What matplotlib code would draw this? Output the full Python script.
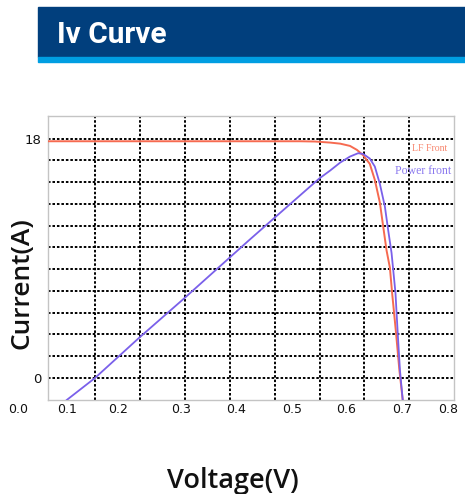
import numpy as np
import matplotlib
matplotlib.use("Agg")
import matplotlib.pyplot as plt
from matplotlib.patches import Rectangle

# ---------------- data ----------------
title = "Iv Curve"
x_label = "Voltage(V)"
y_label = "Current(A)"
x_tick_labels = ["0.0", "0.1", "0.2", "0.3", "0.4", "0.5", "0.6", "0.7", "0.8"]
y_tick_values = [0, 18]
series_names = ["LF Front", "Power front"]

lf_voltage = [0.066, 0.300, 0.518, 0.545, 0.572, 0.590, 0.6075, 0.620, 0.631, 0.643,
              0.652, 0.661, 0.667, 0.673, 0.679, 0.683, 0.690, 0.696, 0.702]
lf_current = [17.8, 17.8, 17.8, 17.78, 17.7, 17.62, 17.45, 17.15, 16.75, 16.1,
              14.9, 13.2, 11.4, 9.6, 8.3, 6.4, 3.4, 0.6, -1.65]

pw_voltage = [0.100, 0.1505, 0.229, 0.278, 0.308, 0.425, 0.471, 0.5525, 0.572, 0.590,
              0.6075, 0.622, 0.631, 0.643, 0.652, 0.661, 0.670, 0.676, 0.682, 0.689,
              0.693, 0.697, 0.702]
pw_current = [-1.65, 0.0, 3.0, 4.8, 5.9, 10.3, 12.0, 15.0, 15.6, 16.2,
              16.65, 16.9, 16.85, 16.5, 15.9, 14.6, 12.9, 11.1, 9.4, 6.4,
              3.4, 0.6, -1.65]

# ---------------- layout ----------------
W, H = 465, 494
fig = plt.figure(figsize=(W / 100, H / 100), dpi=100)

# pixel <-> data mapping of the reference plot
def px_to_v(px):
    return (px - 11.0) / 558.0

def py_to_i(py):
    return (378.0 - py) / 13.3

ax_l, ax_r, ax_t, ax_b = 48, 454, 116, 400
ax = fig.add_axes([ax_l / W, 1 - ax_b / H, (ax_r - ax_l) / W, (ax_b - ax_t) / H])
ax.set_xlim(px_to_v(ax_l), px_to_v(ax_r))
ax.set_ylim(py_to_i(ax_b), py_to_i(ax_t))

for s in ax.spines.values():
    s.set_color("#c4c4c4")
    s.set_linewidth(1.0)

# grid
grid_kw = dict(color="black", lw=1.4, linestyle=(0, (1.3, 1.0)), zorder=1)
for px in np.arange(95, 410, 44.9):
    ax.axvline(px_to_v(px), **grid_kw)
for yv in np.linspace(y_tick_values[0], y_tick_values[1], 12):
    ax.axhline(yv, **grid_kw)

ax.set_xticks([])
ax.set_yticks(y_tick_values)
ax.set_yticklabels([str(v) for v in y_tick_values], fontsize=9.5, family="DejaVu Sans",
                   color="#111111")
ax.tick_params(axis="y", length=0, pad=5)

# curves
ax.plot(lf_voltage, lf_current, color="#f66a50", lw=1.4, zorder=3, solid_joinstyle="round")
ax.plot(pw_voltage, pw_current, color="#7a60ea", lw=1.3, zorder=4, solid_joinstyle="round")

# in-plot labels
ax.text(px_to_v(447), py_to_i(149), series_names[0], ha="right", va="center",
        family="Liberation Serif", fontsize=7, color="#f7876f", zorder=5)
ax.text(px_to_v(451), py_to_i(171), series_names[1], ha="right", va="center",
        family="Liberation Serif", fontsize=8.5, color="#8a78ee", zorder=5)

# x tick labels (irregularly placed in the reference)
label_px = [18, 67, 118, 181, 236, 292, 346, 402, 448]
for lab, px in zip(x_tick_labels, label_px):
    fig.text(px / W, 1 - 409.5 / H, lab, ha="center", va="center",
             fontsize=9, family="DejaVu Sans", color="#111111")

# axis titles
fig.text(232.5 / W, 1 - 481 / H, x_label, ha="center", va="center",
         fontsize=19.5, family="Open Sans", fontweight="semibold", color="#111111")
fig.text(22 / W, 1 - 283 / H, y_label, ha="center", va="center", rotation=90,
         fontsize=19, family="Open Sans", fontweight="semibold", color="#111111")

# header bar
fig.patches.append(Rectangle((38 / W, 1 - 57 / H), 1 - 38 / W, 50 / H,
                             transform=fig.transFigure, color="#013f7d", zorder=0))
fig.patches.append(Rectangle((38 / W, 1 - 62 / H), 1 - 38 / W, 5 / H,
                             transform=fig.transFigure, color="#009ee2", zorder=0))
fig.text(57 / W, 1 - 43.3 / H, title, ha="left", va="baseline", fontsize=21.5,
         family="Roboto", fontweight="bold", color="white")

fig.savefig("out.png", dpi=100)
